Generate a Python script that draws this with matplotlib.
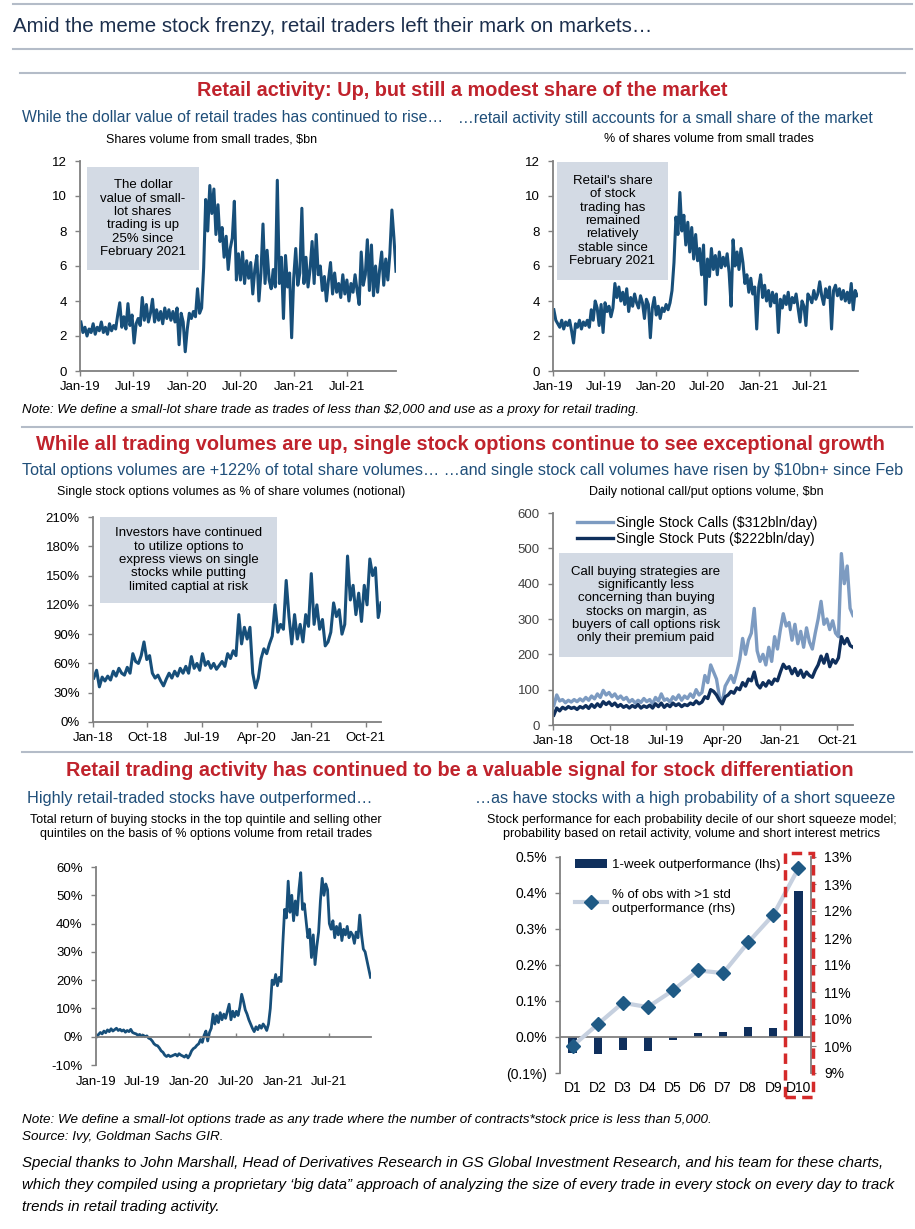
import math
import numpy as np
import pandas as pd
import matplotlib
matplotlib.use('Agg')
import matplotlib.pyplot as plt
import matplotlib.dates as mdates
import matplotlib.ticker as mticker
from matplotlib.patches import Rectangle
from matplotlib.lines import Line2D

# ---------------- data ----------------
# small-lot shares volume, $bn (weekly samples from Jan-19)
dollar_2019 = [2.8, 2.2, 2.5, 2.0, 2.4, 2.2, 2.7, 2.1, 2.5, 2.3, 2.8, 2.2, 2.5,
               2.1, 2.7, 2.3, 2.6, 2.4, 3.2, 3.9, 2.5, 3.1, 2.4, 3.85, 2.6, 3.2,
               1.6, 2.7, 3.0, 2.6, 4.2, 2.9, 3.8, 2.8, 3.3, 4.1, 2.8, 3.5, 2.9,
               3.4, 2.7, 3.6, 3.0, 3.5, 2.9, 3.4, 2.8, 3.6, 1.5, 3.3, 2.8, 1.1]
dollar_2020 = [2.4, 3.3, 3.0, 3.4, 3.1, 4.7, 3.3, 3.6, 5.9, 9.8, 8.0, 10.6, 9.0,
               10.4, 7.8, 9.5, 7.4, 8.2, 6.5, 7.7, 5.8, 7.0, 7.6, 9.7, 5.2, 6.7,
               5.2, 6.8, 5.0, 6.3, 5.3, 6.2, 4.4, 5.8, 6.6, 4.0, 5.6, 8.4, 5.0,
               6.9, 5.2, 4.7, 5.8, 4.8, 10.9, 5.0, 6.5, 3.0, 6.6, 4.8, 5.6, 1.9]
dollar_2021 = [5.3, 7.0, 4.9, 5.6, 9.3, 5.0, 6.5, 4.8, 5.8, 7.4, 5.0, 7.8, 5.5,
               6.0, 4.6, 5.4, 4.0, 5.2, 6.2, 4.4, 5.6, 4.5, 5.0, 4.2, 5.5, 4.4,
               5.2, 4.0, 5.0, 4.5, 5.5, 4.6, 3.8, 6.8, 4.9, 5.5, 7.5, 4.6, 7.2,
               4.3, 6.0, 4.5, 5.8, 6.8, 4.9, 6.4, 5.2, 6.7, 9.2, 7.6, 5.7]

# % of shares volume from small trades (weekly samples from Jan-19)
share_2019 = [3.5, 2.9, 2.7, 2.5, 2.9, 2.4, 2.8, 2.6, 2.9, 2.3, 1.6, 2.7, 2.5,
              2.9, 2.4, 2.8, 2.6, 2.9, 2.5, 3.5, 2.9, 4.0, 3.6, 2.6, 3.8, 2.2,
              3.9, 3.4, 3.7, 3.1, 3.6, 5.0, 4.2, 4.8, 4.0, 4.5, 3.8, 4.7, 3.4,
              4.2, 3.7, 4.4, 3.9, 3.6, 4.3, 3.9, 3.0, 4.1, 3.8, 1.9, 3.6, 4.2]
share_2020 = [3.2, 3.7, 3.0, 3.6, 3.4, 3.8, 3.5, 3.9, 4.6, 6.2, 8.8, 7.8, 10.2,
              8.0, 8.9, 7.2, 8.5, 6.8, 8.2, 6.4, 7.8, 6.3, 7.0, 5.5, 7.2, 3.8,
              6.4, 5.4, 7.0, 5.8, 6.6, 5.5, 6.8, 5.9, 6.5, 6.0, 6.7, 5.6, 3.7,
              7.5, 6.0, 6.8, 5.8, 7.0, 6.2, 5.0, 5.5, 4.5, 5.3, 4.4, 4.8, 2.4]
share_2021 = [4.8, 5.5, 4.2, 4.9, 4.0, 4.6, 3.7, 4.5, 3.9, 4.4, 2.2, 4.1, 3.6,
              4.3, 3.8, 4.5, 3.5, 4.2, 3.9, 4.4, 3.6, 2.8, 4.0, 3.7, 2.6, 4.4,
              4.2, 3.9, 4.6, 4.1, 4.4, 5.1, 4.3, 3.8, 4.7, 4.2, 4.8, 2.4, 4.6,
              4.9, 4.3, 4.7, 4.1, 4.6, 4.0, 4.5, 3.9, 5.0, 3.5, 4.6, 4.3]

# single stock options volumes as % of share volumes (bi-weekly from Jan-18)
opt_2018 = [45, 53, 36, 46, 42, 47, 43, 52, 47, 55, 50, 48, 56,
            50, 70, 62, 60, 68, 82, 64, 68, 50, 45, 48, 42, 37]
opt_2019 = [44, 50, 45, 52, 47, 55, 50, 57, 50, 67, 55, 60, 53,
            70, 58, 62, 55, 60, 54, 58, 62, 57, 70, 65, 73, 68]
opt_2020 = [110, 80, 97, 85, 97, 50, 35, 45, 65, 75, 70, 80, 88,
            120, 92, 100, 95, 145, 108, 80, 110, 85, 100, 82, 110, 98]
opt_2021 = [152, 100, 120, 95, 105, 78, 82, 92, 122, 108, 115, 90, 100,
            170, 125, 140, 110, 132, 103, 140, 120, 167, 150, 158, 107, 122]

# daily notional call / put options volume, $bn (bi-weekly from Jan-18)
calls_2018 = [55, 85, 68, 72, 63, 70, 65, 72, 66, 74, 68, 78, 70,
              82, 74, 88, 78, 98, 85, 92, 80, 88, 75, 82, 72, 78]
calls_2019 = [65, 72, 62, 70, 64, 75, 66, 72, 60, 78, 68, 88, 70,
              74, 65, 80, 72, 85, 70, 82, 75, 88, 78, 100, 85, 92]
calls_2020 = [140, 120, 170, 150, 130, 80, 65, 110, 125, 140, 120, 150, 185,
              245, 200, 240, 260, 330, 210, 180, 200, 170, 220, 180, 250, 215]
calls_2021 = [270, 315, 280, 290, 240, 285, 230, 265, 220, 275, 235, 215, 260,
              300, 350, 285, 300, 270, 295, 260, 250, 485, 400, 450, 330, 310]
puts_2018 = [28, 48, 40, 50, 45, 52, 47, 50, 44, 52, 48, 55, 47,
             58, 50, 60, 52, 66, 58, 65, 55, 62, 52, 58, 50, 55]
puts_2019 = [48, 55, 50, 58, 48, 54, 50, 56, 48, 60, 52, 62, 50,
             58, 52, 62, 55, 60, 52, 58, 55, 62, 58, 68, 60, 65]
puts_2020 = [80, 75, 100, 95, 85, 70, 60, 80, 85, 95, 90, 105, 100,
             120, 110, 130, 125, 150, 115, 105, 120, 110, 125, 115, 130, 125]
puts_2021 = [150, 172, 160, 165, 145, 160, 140, 155, 135, 150, 140, 135, 155,
             170, 195, 175, 200, 165, 185, 175, 190, 250, 230, 245, 225, 220]

# total return of top-quintile long / short, % (weekly from Jan-19)
ret_2019 = [0.0, 0.8, 1.5, 1.0, 2.0, 1.4, 2.4, 1.8, 2.8, 2.0, 2.5, 3.0, 2.2,
            2.6, 2.0, 2.4, 1.6, 2.2, 1.8, 2.6, 1.5, 1.2, 1.0, 0.5, 0.8, 0.2,
            0.5, 0.0, 0.3, -0.5, -0.8, -1.5, -2.5, -3.0, -3.2, -4.0, -5.0, -5.5, -6.5,
            -7.0, -6.5, -7.0, -6.8, -6.5, -6.2, -6.8, -6.0, -6.5, -6.8, -7.2, -6.5, -7.5]
ret_2020 = [-6.5, -5.0, -4.2, -3.8, -3.0, -2.5, -1.0, -2.0, 0.5, 2.0, -1.5, 1.5, 3.0,
            8.0, 4.5, 7.5, 5.0, 8.5, 6.0, 8.0, 6.5, 9.0, 11.5, 6.0, 9.0, 7.0,
            9.0, 7.5, 10.5, 15.0, 12.5, 9.5, 8.0, 6.0, 4.5, 3.0, 1.8, 3.5, 2.5,
            4.0, 3.0, 4.5, 3.5, 2.2, 4.5, 10.0, 20.0, 18.5, 22.0, 18.0, 21.0, 19.5]
ret_2021 = [33.0, 45.0, 42.0, 55.0, 44.0, 50.0, 41.0, 48.0, 43.0, 52.0, 58.0, 45.0, 47.0,
            41.0, 35.0, 38.0, 28.0, 36.0, 25.5, 32.0, 37.0, 48.0, 56.0, 50.0, 54.0, 52.0,
            40.0, 38.0, 41.0, 35.0, 39.0, 36.0, 40.0, 34.0, 38.0, 36.0, 39.0, 35.0, 37.0,
            36.0, 33.0, 37.0, 35.0, 43.0, 36.0, 31.0, 30.0, 27.0, 24.0, 21.0]

# short squeeze deciles
deciles = ['D1', 'D2', 'D3', 'D4', 'D5', 'D6', 'D7', 'D8', 'D9', 'D10']
week_outperf = [-0.045, -0.046, -0.035, -0.038, -0.009, 0.011, 0.013, 0.029, 0.026, 0.405]
obs_above_1std = [9.5, 9.9, 10.3, 10.22, 10.53, 10.9, 10.85, 11.42, 11.93, 12.79]

retail_dollar_bn = dollar_2019 + dollar_2020 + dollar_2021
retail_share = share_2019 + share_2020 + share_2021
opt_pct = opt_2018 + opt_2019 + opt_2020 + opt_2021
calls = calls_2018 + calls_2019 + calls_2020 + calls_2021
puts = puts_2018 + puts_2019 + puts_2020 + puts_2021
ret = ret_2019 + ret_2020 + ret_2021

weeks_a = pd.date_range('2019-01-04', periods=len(retail_dollar_bn), freq='7D')
weeks_b = pd.date_range('2019-01-04', periods=len(retail_share), freq='7D')
fortnights = pd.date_range('2018-01-05', periods=len(opt_pct), freq='14D')
weeks_c = pd.date_range('2019-01-04', periods=len(ret), freq='7D')

# ---------------- styling ----------------
plt.rcParams['font.family'] = ['Liberation Sans', 'DejaVu Sans']

NAVY = '#174f7a'
CALLS = '#7d9bc1'
PUTS = '#0f2f5c'
BOXC = '#d3dae4'
RED = '#c0232c'
SUB = '#1f4e79'
GRAY = '#808080'
RULE = '#b4bcc8'

W, H = 915, 1229
fig = plt.figure(figsize=(W / 100, H / 100), dpi=100)
fig.patch.set_facecolor('white')


def fx(x):
    return x / W


def fy(y):
    return 1 - y / H


def rect(l, t, r, b):
    return [fx(l), fy(b), (r - l) / W, (b - t) / H]


def rule(y, x0=20, x1=912):
    fig.add_artist(Line2D([fx(x0), fx(x1)], [fy(y), fy(y)], color=RULE, lw=1.5))


def style(ax):
    ax.spines['top'].set_visible(False)
    ax.spines['right'].set_visible(False)
    for s in ['left', 'bottom']:
        ax.spines[s].set_color(GRAY)
        ax.spines[s].set_linewidth(1.3)
    ax.tick_params(color=GRAY, labelcolor='black', labelsize=9.5, length=3.5, width=1.0)
    ax.tick_params(axis='y', pad=6)
    ax.tick_params(axis='x', pad=4)
    ax.set_facecolor('none')


def note_box(ax, l, b, r, t, text):
    ax.add_patch(Rectangle((l, b), r - l, t - b, transform=ax.transAxes,
                           facecolor=BOXC, edgecolor='none', zorder=3))
    ax.text((l + r) / 2, (b + t) / 2, text, transform=ax.transAxes, ha='center',
            va='center', fontsize=9.5, linespacing=1.15, zorder=4)


# ---------------- headings ----------------
rule(4, 13, 912)
fig.text(fx(13), fy(27), 'Amid the meme stock frenzy, retail traders left their mark on markets\u2026',
         fontsize=14.8, color='#1c2f4d', va='center')
rule(49, 13, 912)
rule(73, 20, 905)
fig.text(fx(462), fy(91), 'Retail activity: Up, but still a modest share of the market',
         fontsize=14.3, fontweight='bold', color=RED, ha='center', va='center')
fig.text(fx(22), fy(118), 'While the dollar value of retail trades has continued to rise\u2026',
         fontsize=11.3, color=SUB, va='center')
fig.text(fx(873), fy(118), '\u2026retail activity still accounts for a small share of the market',
         fontsize=11.3, color=SUB, va='center', ha='right')
fig.text(fx(212), fy(139), 'Shares volume from small trades, $bn',
         fontsize=9, ha='center', va='center')
fig.text(fx(709), fy(139), '% of shares volume from small trades',
         fontsize=9, ha='center', va='center')

# ---------------- chart 1 ----------------
ax1 = fig.add_axes(rect(80, 161, 396, 371))
style(ax1)
ax1.plot(weeks_a, retail_dollar_bn, color=NAVY, lw=2.2)
ax1.set_ylim(0, 12)
ax1.set_yticks(range(0, 13, 2))
ax1.set_xlim(pd.Timestamp('2019-01-01'), pd.Timestamp('2021-12-17'))
ax1.xaxis.set_major_locator(mdates.MonthLocator(bymonth=[1, 7]))
ax1.xaxis.set_major_formatter(mdates.DateFormatter('%b-%y'))
note_box(ax1, 0.022, 0.481, 0.377, 0.971,
         'The dollar\nvalue of small-\nlot shares\ntrading is up\n25% since\nFebruary 2021')

# ---------------- chart 2 ----------------
ax2 = fig.add_axes(rect(553, 161, 858, 371))
style(ax2)
ax2.plot(weeks_b, retail_share, color=NAVY, lw=2.2)
ax2.set_ylim(0, 12)
ax2.set_yticks(range(0, 13, 2))
ax2.set_xlim(pd.Timestamp('2019-01-01'), pd.Timestamp('2021-12-20'))
ax2.xaxis.set_major_locator(mdates.MonthLocator(bymonth=[1, 7]))
ax2.xaxis.set_major_formatter(mdates.DateFormatter('%b-%y'))
note_box(ax2, 0.013, 0.433, 0.377, 0.995,
         "Retail's share\nof stock\ntrading has\nremained\nrelatively\nstable since\nFebruary 2021")

fig.text(fx(22), fy(410), 'Note: We define a small-lot share trade as trades of less than $2,000 '
         'and use as a proxy for retail trading.', fontsize=9.5, style='italic', va='center')

# ---------------- section 2 ----------------
rule(427, 22, 912)
fig.text(fx(460), fy(444), 'While all trading volumes are up, single stock options continue to see exceptional growth',
         fontsize=14.4, fontweight='bold', color=RED, ha='center', va='center')
fig.text(fx(22), fy(471), 'Total options volumes are +122% of total share volumes\u2026 \u2026and single stock '
         'call volumes have risen by $10bn+ since Feb', fontsize=11.6, color=SUB, va='center')
fig.text(fx(231), fy(492), 'Single stock options volumes as % of share volumes (notional)',
         fontsize=9, ha='center', va='center')
fig.text(fx(706), fy(492), 'Daily notional call/put options volume, $bn',
         fontsize=9, ha='center', va='center')

nine_month_ticks = pd.date_range('2018-01-01', '2021-12-01', freq='9MS')

ax3 = fig.add_axes(rect(93, 517, 381, 722))
style(ax3)
ax3.plot(fortnights, opt_pct, color=NAVY, lw=2.2)
ax3.set_ylim(0, 210)
ax3.set_yticks(range(0, 211, 30))
ax3.yaxis.set_major_formatter(mticker.FuncFormatter(lambda v, p: f'{v:.0f}%'))
ax3.set_xlim(pd.Timestamp('2018-01-01'), pd.Timestamp('2021-12-17'))
ax3.set_xticks(nine_month_ticks)
ax3.xaxis.set_major_formatter(mdates.DateFormatter('%b-%y'))
note_box(ax3, 0.024, 0.58, 0.639, 1.0,
         'Investors have continued\nto utilize options to\nexpress views on single\n'
         'stocks while putting\nlimited captial at risk')

ax4 = fig.add_axes(rect(553, 513, 853, 725))
style(ax4)
ax4.plot(fortnights, calls, color=CALLS, lw=2.4, label='Single Stock Calls ($312bln/day)')
ax4.plot(fortnights, puts, color=PUTS, lw=2.4, label='Single Stock Puts ($222bln/day)')
ax4.set_ylim(0, 600)
ax4.set_yticks(range(0, 601, 100))
ax4.set_xlim(pd.Timestamp('2018-01-01'), pd.Timestamp('2021-12-17'))
ax4.set_xticks(nine_month_ticks)
ax4.xaxis.set_major_formatter(mdates.DateFormatter('%b-%y'))
ax4.tick_params(axis='y', labelcolor='#404040')
ax4.legend(loc='upper left', bbox_to_anchor=(0.08, 0.985), frameon=False, fontsize=10,
           handlelength=2.6, handletextpad=0.2, labelspacing=0.1, borderpad=0, borderaxespad=0)
note_box(ax4, 0.02, 0.321, 0.6, 0.811,
         'Call buying strategies are\nsignificantly less\nconcerning than buying\n'
         'stocks on margin, as\nbuyers of call options risk\nonly their premium paid')

# ---------------- section 3 ----------------
rule(752, 22, 912)
fig.text(fx(460), fy(770), 'Retail trading activity has continued to be a valuable signal for stock differentiation',
         fontsize=14.3, fontweight='bold', color=RED, ha='center', va='center')
fig.text(fx(27), fy(799), 'Highly retail-traded stocks have outperformed\u2026',
         fontsize=11.7, color=SUB, va='center')
fig.text(fx(895), fy(799), '\u2026as have stocks with a high probability of a short squeeze',
         fontsize=11.6, color=SUB, va='center', ha='right')
fig.text(fx(206), fy(827), 'Total return of buying stocks in the top quintile and selling other\n'
         'quintiles on the basis of % options volume from retail trades',
         fontsize=9, ha='center', va='center', linespacing=1.3)
fig.text(fx(692), fy(827), 'Stock performance for each probability decile of our short squeeze model;\n'
         'probability based on retail activity, volume and short interest metrics',
         fontsize=9, ha='center', va='center', linespacing=1.3)

ax5 = fig.add_axes(rect(96, 867, 371, 1065))
style(ax5)
ax5.plot(weeks_c, ret, color=NAVY, lw=2.0)
ax5.set_ylim(-10, 60)
ax5.set_yticks(range(-10, 61, 10))
ax5.yaxis.set_major_formatter(mticker.FuncFormatter(lambda v, p: f'{v:.0f}%'))
ax5.set_xlim(pd.Timestamp('2019-01-01'), pd.Timestamp('2021-12-12'))
ax5.xaxis.set_major_locator(mdates.MonthLocator(bymonth=[1, 7]))
ax5.xaxis.set_major_formatter(mdates.DateFormatter('%b-%y'))
ax5.spines['bottom'].set_position(('data', 0))
ax5.tick_params(axis='x', direction='in', length=3, pad=28)

ax6 = fig.add_axes(rect(560, 857, 811, 1073))
style(ax6)
xpos = np.arange(1, len(deciles) + 1)
ax6.bar(xpos, week_outperf, width=0.33, color=PUTS, label='1-week outperformance (lhs)')
ax6.set_ylim(-0.1, 0.5)
ax6.set_yticks(np.arange(-0.1, 0.51, 0.1))
ax6.yaxis.set_major_formatter(mticker.FuncFormatter(
    lambda v, p: f'({abs(v):.1f}%)' if v < -1e-9 else f'{abs(v):.1f}%'))
ax6.set_xlim(0.5, 10.5)
ax6.set_xticks(xpos, deciles)
ax6.spines['bottom'].set_visible(False)
ax6.axhline(0, color=GRAY, lw=1.3)
ax6.tick_params(axis='x', length=0, pad=6, labelsize=10)
ax6.tick_params(axis='y', labelsize=10)

ax6b = ax6.twinx()
ax6b.plot(xpos, obs_above_1std, color='#c6d0df', lw=3, marker='D', ms=7,
          mfc='#1f5a85', mec='#1f5a85', label='% of obs with >1 std\noutperformance (rhs)')
ax6b.set_ylim(9, 13)
ax6b.set_yticks(np.arange(9, 13.01, 0.5))
ax6b.yaxis.set_major_formatter(mticker.FuncFormatter(lambda v, p: f'{math.floor(v + 0.5 + 1e-9):.0f}%'))
for s in ['top', 'left', 'bottom']:
    ax6b.spines[s].set_visible(False)
ax6b.spines['right'].set_color(GRAY)
ax6b.spines['right'].set_linewidth(1.3)
ax6b.tick_params(color=GRAY, labelsize=10, length=3.5, pad=6)
h1, l1 = ax6.get_legend_handles_labels()
h2, l2 = ax6b.get_legend_handles_labels()
ax6b.legend(h1 + h2, l1 + l2, loc='upper left', bbox_to_anchor=(0.06, 0.99), frameon=False,
            fontsize=9.5, handlelength=2.4, handletextpad=0.4, labelspacing=1.35,
            borderpad=0, borderaxespad=0)
ax6b.add_patch(Rectangle((0.896, -0.111), 0.112, 1.13, transform=ax6b.transAxes, fill=False,
                         ec='#d42a2a', lw=2.5, ls=(0, (3, 1.8)), clip_on=False, zorder=5))

# ---------------- footer ----------------
fig.text(fx(22), fy(1120), 'Note: We define a small-lot options trade as any trade where the number of '
         'contracts*stock price is less than 5,000.', fontsize=9.7, style='italic', va='center')
fig.text(fx(22), fy(1137), 'Source: Ivy, Goldman Sachs GIR.', fontsize=9.7,
         style='italic', va='center')
thanks = ['Special thanks to John Marshall, Head of Derivatives Research in GS Global Investment '
          'Research, and his team for these charts,',
          'which they compiled using a proprietary \u2018big data\u201d approach of analyzing the size of '
          'every trade in every stock on every day to track',
          'trends in retail trading activity.']
for i, line in enumerate(thanks):
    fig.text(fx(22), fy(1163 + 22 * i), line, fontsize=10.8, style='italic', va='center')

fig.savefig('out.png', dpi=100)
